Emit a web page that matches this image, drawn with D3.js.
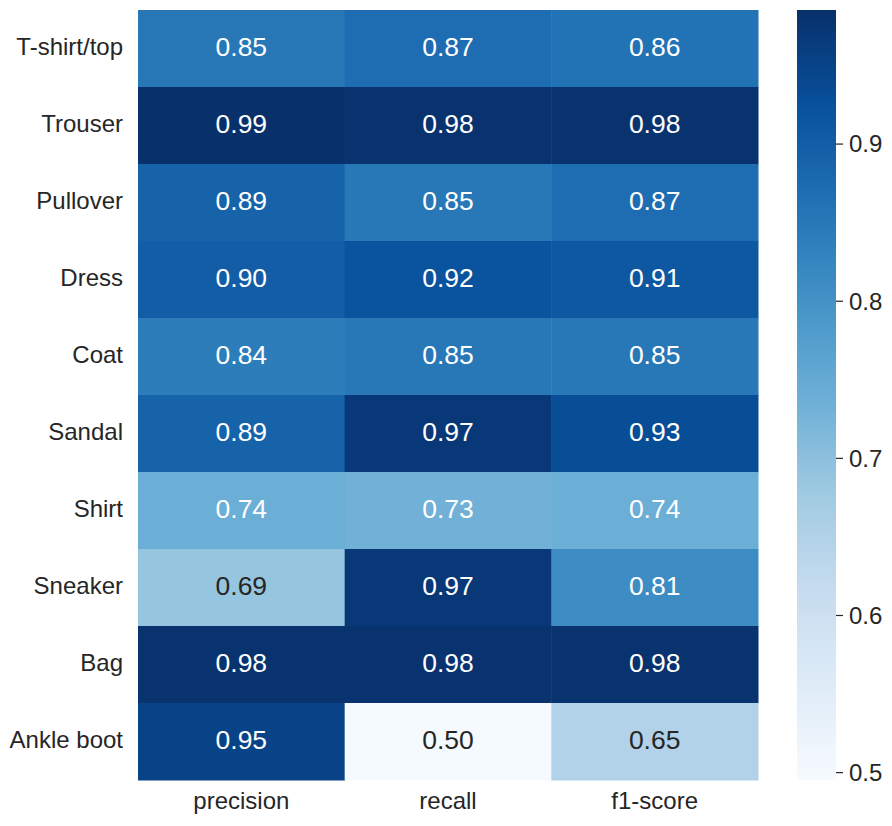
<!DOCTYPE html>
<html><head><meta charset="utf-8">
<script src="https://cdn.jsdelivr.net/npm/d3@7"></script>
<style>body{margin:0;background:#fff}svg{display:block}text{font-family:"Liberation Sans",Arial,sans-serif}</style>
</head><body>
<svg id="c" width="892" height="826"></svg>
<script>
const rows = ["T-shirt/top","Trouser","Pullover","Dress","Coat","Sandal","Shirt","Sneaker","Bag","Ankle boot"];
const cols = ["precision","recall","f1-score"];
const precision = [0.85,0.99,0.89,0.90,0.84,0.89,0.74,0.69,0.98,0.95];
const recall    = [0.87,0.98,0.85,0.92,0.85,0.97,0.733,0.97,0.98,0.50];
const f1score   = [0.86,0.98,0.87,0.91,0.85,0.93,0.74,0.81,0.98,0.65];
const cbTicks = [0.5,0.6,0.7,0.8,0.9];
const vmin = 0.495, vmax = 0.985;

const series = [precision, recall, f1score];
const cells = [];
rows.forEach((r,i)=>cols.forEach((c,j)=>cells.push({r,c,v:series[j][i]})));

const svg = d3.select("#c");
const L=138,R=758,T=10,B=780;
const x = d3.scaleBand().domain(cols).range([L,R]);
const y = d3.scaleBand().domain(rows).range([T,B]);
const interp = d3.piecewise(d3.interpolateRgb, d3.schemeBlues[9]);
const color = d3.scaleSequential(interp).domain([vmin,vmax]).clamp(true);

function lum(c){
  const k = d3.rgb(c);
  const f = v=>{v/=255;return v<=0.03928?v/12.92:Math.pow((v+0.055)/1.055,2.4);};
  return 0.2126*f(k.r)+0.7152*f(k.g)+0.0722*f(k.b);
}

svg.append("g").selectAll("rect").data(cells).join("rect")
  .attr("x",d=>x(d.c)).attr("y",d=>y(d.r))
  .attr("width",x.bandwidth()+0.5).attr("height",y.bandwidth()+0.5)
  .attr("fill",d=>color(d.v));

svg.append("g").selectAll("text").data(cells).join("text")
  .attr("x",d=>x(d.c)+x.bandwidth()/2).attr("y",d=>y(d.r)+y.bandwidth()/2)
  .attr("dy","0.283em").attr("text-anchor","middle")
  .attr("font-size","26.5px")
  .attr("fill",d=>lum(color(d.v))>0.408?"#262626":"#ffffff")
  .text(d=>d.v.toFixed(2));

const ya = svg.append("g").attr("transform",`translate(${L},0)`)
  .call(d3.axisLeft(y).tickSize(0).tickPadding(15));
ya.select(".domain").remove();
ya.selectAll("text").attr("font-size","24px").attr("fill","#262626").attr("dy","0.26em")
  .style("font-family",'"Liberation Sans",Arial,sans-serif');

const xa = svg.append("g").attr("transform",`translate(0,${B})`)
  .call(d3.axisBottom(x).tickSize(0).tickPadding(12));
xa.select(".domain").remove();
xa.selectAll("text").attr("font-size","24px").attr("fill","#262626")
  .style("font-family",'"Liberation Sans",Arial,sans-serif');

// colorbar
const cbL=797, cbW=39;
const cy = d3.scaleLinear().domain([vmin,vmax]).range([B,T]);
const defs = svg.append("defs");
const grad = defs.append("linearGradient").attr("id","cb")
  .attr("x1","0").attr("y1","1").attr("x2","0").attr("y2","0");
d3.range(0,1.0001,0.02).forEach(t=>{
  grad.append("stop").attr("offset",t).attr("stop-color",interp(t));
});
svg.append("rect").attr("x",cbL).attr("y",T).attr("width",cbW).attr("height",B-T).attr("fill","url(#cb)");
const ca = svg.append("g").attr("transform",`translate(${cbL+cbW},0)`)
  .call(d3.axisRight(cy).tickValues(cbTicks).tickFormat(d3.format(".1f")).tickSize(7).tickPadding(6));
ca.select(".domain").remove();
ca.selectAll("line").attr("stroke","#262626").attr("stroke-width",1.2);
ca.selectAll("text").attr("font-size","24px").attr("fill","#262626").attr("dy","0.35em")
  .style("font-family",'"Liberation Sans",Arial,sans-serif');
</script>
</body></html>
